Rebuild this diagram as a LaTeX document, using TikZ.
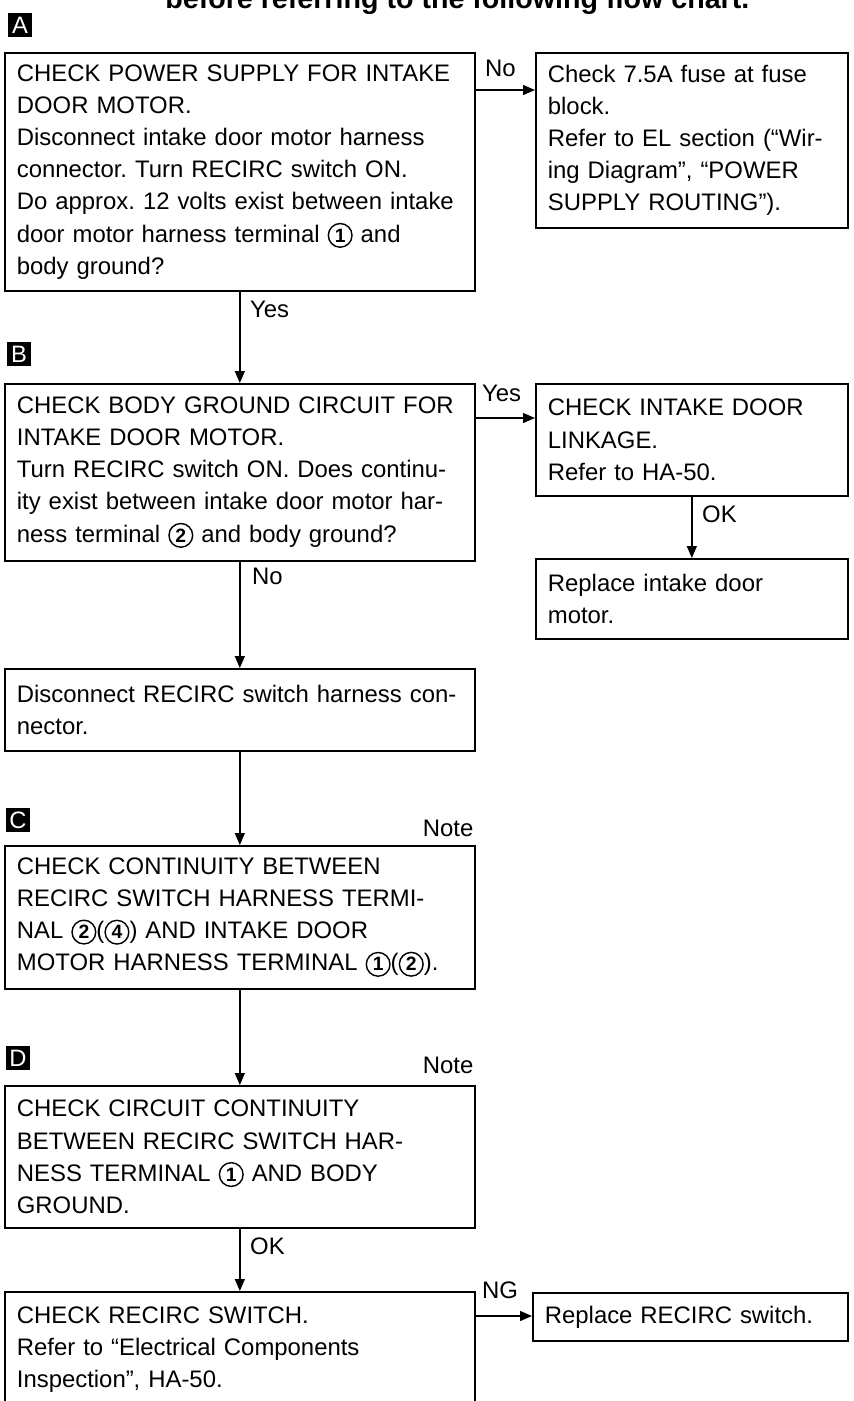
\documentclass[tikz,border=0pt]{standalone}
\usepackage{fontspec}
\setmainfont{Liberation Sans}
\usetikzlibrary{arrows.meta,positioning}

\newcommand{\circnum}[1]{\tikz[baseline=(cn.base)]\node[draw,circle,line width=0.8pt,inner sep=0pt,minimum size=13.5pt,text width=,align=center,anchor=center,font=\fontsize{11}{11}\selectfont\bfseries](cn){#1};}

\begin{document}
\frenchspacing
\begin{tikzpicture}[x=0.02cm, y=-0.02cm, font=\fontsize{13.6}{18.3}\selectfont,
    stepbox/.style={draw, line width=1pt, anchor=north west, align=left, inner xsep=0.24cm, inner ysep=0pt},
    leftbox/.style={stepbox, text width=8.92cm},
    rightbox/.style={stepbox, text width=5.76cm},
    marker/.style={fill=black, text=white, minimum size=0.47cm, inner sep=0pt, font=\fontsize{13.5}{13.5}\selectfont},
    lbl/.style={inner sep=0pt},
    flow/.style={line width=0.8pt, -{Triangle[length=0.24cm,width=0.2cm]}}]
  \useasboundingbox (0,0) rectangle (853,1401);
  \clip (0,0) rectangle (853,1401);

  % heading, cut off at the top
  \node[lbl, font=\fontsize{16.3}{18}\selectfont\bfseries, anchor=base west] (title) at (165,8)
    {before referring to the following flow chart.};

  % A
  \node[marker] (mA) at (20,25) {A};
  \node[leftbox, minimum height=4.76cm] (chkA) at (4,52)
    {CHECK POWER SUPPLY FOR INTAKE\\DOOR MOTOR.\\Disconnect intake door motor harness\\connector. Turn RECIRC switch ON.\\Do approx. 12 volts exist between intake\\door motor harness terminal \circnum{1} and\\body ground?};
  \node[rightbox, minimum height=3.5cm] (fuse) at (535,52)
    {Check 7.5A fuse at fuse\\block.\\Refer to EL section (“Wir-\\ing Diagram”, “POWER\\SUPPLY ROUTING”).};

  % B
  \node[marker] (mB) at (19,354) {B};
  \node[leftbox, minimum height=3.54cm] (chkB) at (4,383)
    {CHECK BODY GROUND CIRCUIT FOR\\INTAKE DOOR MOTOR.\\Turn RECIRC switch ON. Does continu-\\ity exist between intake door motor har-\\ness terminal \circnum{2} and body ground?};
  \node[rightbox, minimum height=2.24cm] (link) at (535,383)
    {CHECK INTAKE DOOR\\LINKAGE.\\Refer to HA-50.};
  \node[rightbox, minimum height=1.6cm] (motor) at (535,558)
    {Replace intake door\\motor.};
  \node[leftbox, minimum height=1.64cm] (disc) at (4,668)
    {Disconnect RECIRC switch harness con-\\nector.};

  % C
  \node[marker] (mC) at (18,820) {C};
  \node[leftbox, minimum height=2.86cm] (chkC) at (4,845)
    {CHECK CONTINUITY BETWEEN\\RECIRC SWITCH HARNESS TERMI-\\NAL \circnum{2}(\circnum{4}) AND INTAKE DOOR\\MOTOR HARNESS TERMINAL \circnum{1}(\circnum{2}).};

  % D
  \node[marker] (mD) at (18,1058) {D};
  \node[leftbox, minimum height=2.84cm] (chkD) at (4,1085)
    {CHECK CIRCUIT CONTINUITY\\BETWEEN RECIRC SWITCH HAR-\\NESS TERMINAL \circnum{1} AND BODY\\GROUND.};
  \node[leftbox, minimum height=2.3cm] (chkE) at (4,1291)
    {CHECK RECIRC SWITCH.\\Refer to “Electrical Components\\Inspection”, HA-50.};
  \node[stepbox, text width=5.82cm, minimum height=0.96cm] (repsw) at (532,1292)
    {Replace RECIRC switch.};

  % connectors
  \draw[flow] (chkA.north east) ++(0,38) coordinate (noA) -- (noA -| fuse.west);
  \node[lbl, anchor=west] at ([shift={(9,-22)}]noA) {No};
  \draw[flow] (chkA.south) -- (chkB.north);
  \node[lbl, anchor=west] at ([shift={(10,18)}]chkA.south) {Yes};
  \draw[flow] (chkB.north east) ++(0,35) coordinate (yesB) -- (yesB -| link.west);
  \node[lbl, anchor=west] at ([shift={(6,-25)}]yesB) {Yes};
  \draw[flow] (link.south) -- (motor.north);
  \node[lbl, anchor=west] at ([shift={(10,18)}]link.south) {OK};
  \draw[flow] (chkB.south) -- (disc.north);
  \node[lbl, anchor=west] at ([shift={(12,15)}]chkB.south) {No};
  \draw[flow] (disc.south) -- (chkC.north);
  \node[lbl, anchor=east] at ([shift={(-2,-17)}]chkC.north east) {Note};
  \draw[flow] (chkC.south) -- (chkD.north);
  \node[lbl, anchor=east] at ([shift={(-2,-20)}]chkD.north east) {Note};
  \draw[flow] (chkD.south) -- (chkE.north);
  \node[lbl, anchor=west] at ([shift={(10,18)}]chkD.south) {OK};
  \draw[flow] (chkE.north east) ++(0,25) coordinate (ngE) -- (ngE -| repsw.west);
  \node[lbl, anchor=west] at ([shift={(6,-26)}]ngE) {NG};
\end{tikzpicture}
\end{document}
